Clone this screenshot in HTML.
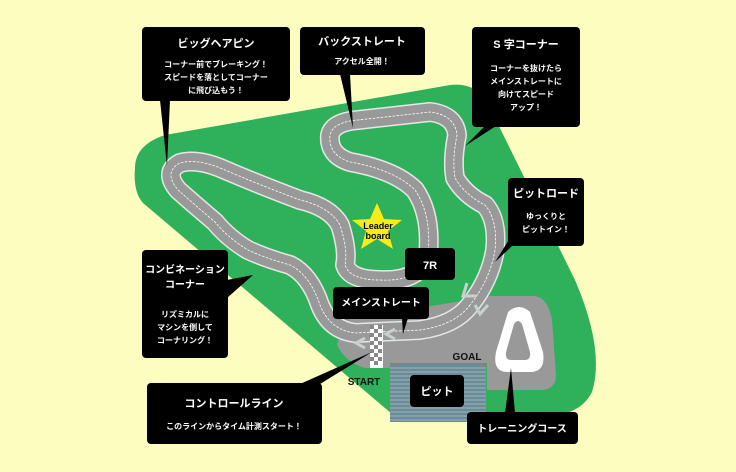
<!DOCTYPE html>
<html><head><meta charset="utf-8"><style>
body{margin:0;background:#fdfdbf;}
svg{display:block}
text{font-family:"Liberation Sans","Noto Sans CJK JP",sans-serif;font-weight:bold;fill:#fff;text-anchor:middle}
</style></head><body>
<svg width="736" height="472" viewBox="0 0 736 472" xmlns="http://www.w3.org/2000/svg">
<defs>
<path id="trk" d="M470,305 Q455,325 420,330 L355,333 Q330,330 320,305 Q310,275 290,265 Q265,258 248,250 Q228,238 215,222 Q195,205 178,190 Q163,172 180,163 Q198,158 225,170 Q260,185 300,200 Q330,207 340,225 Q348,250 345,265 Q350,280 380,280 Q420,282 428,255 Q432,215 415,190 Q395,170 350,162 Q328,155 330,135 Q333,122 358,120 L430,112 Q455,115 457,135 Q452,160 455,178 Q465,195 485,205 Q498,220 495,250 Q490,280 470,305"/>
</defs>
<rect width="736" height="472" fill="#fdfdbf"/>
<path d="M135,168 Q135,145 165,135 L450,85 Q475,82 487,102 L575,280 Q605,350 592,392 Q578,420 530,416 L392,414 L143,203 Q133,192 135,168 Z" fill="#2fb05a"/>
<path d="M345,320 L480,298 L487,296 L487,363 L390,363 L390,368 L365,368 Q345,362 337,345 Z" fill="#999"/>
<path d="M487,296 L535,296 Q548,298 552,320 L556,375 Q556,390 540,390 L487,390 Z" fill="#999"/>
<g fill="none" stroke-linecap="round" stroke-linejoin="round">
<use href="#trk" stroke="#e6e6e6" stroke-width="20"/>
<use href="#trk" stroke="#999" stroke-width="17"/>
<use href="#trk" stroke="#fff" stroke-width="0.8" stroke-dasharray="2 2"/>
</g>
<g fill="none" stroke="#c8d0d0" stroke-width="3">
<path d="M365,338 L356,343 L365,348"/><path d="M395,329 L386,334 L395,339"/>
<path d="M467,283 L463,296 L476,296"/><path d="M475,305 L480,314 L488,305"/>
</g>
<g>
<rect x="370" y="325" width="13" height="43" fill="#fff"/>
<path fill="#888" d="M370,325h4v4h-4zM378,325h4v4h-4zM374,329h4v4h-4zM370,333h4v4h-4zM378,333h4v4h-4zM374,337h4v4h-4zM370,341h4v4h-4zM378,341h4v4h-4zM374,345h4v4h-4zM370,349h4v4h-4zM378,349h4v4h-4zM374,353h4v4h-4zM370,357h4v4h-4zM378,357h4v4h-4zM374,361h4v4h-4z"/>
</g>
<rect x="390" y="364" width="96" height="58" fill="#6d8b96"/>
<g stroke="#9cb4bc" stroke-width="1">
<path d="M390,368H486M390,372H486M390,376H486M390,380H486M390,384H486M390,388H486M390,392H486M390,396H486M390,400H486M390,404H486M390,408H486M390,412H486M390,416H486M390,420H486"/>
</g>
<path d="M508,312 Q519,302 530,312 L543,352 Q546,372 530,372 L508,372 Q492,372 496,352 Z" fill="#fff"/>
<path d="M514,324 Q518,318 522,324 L530,352 Q531,360 525,360 L511,360 Q505,360 506,352 Z" fill="#999"/>
<polygon points="377,203 384,219 402,220 388,231 393,249 377,239 361,249 366,231 352,220 370,219" fill="#f5ec1a"/>
<text x="378" y="229" style="fill:#000;font-size:9px">Leader</text>
<text x="378" y="239" style="fill:#000;font-size:9px">board</text>
<text x="364" y="385" style="fill:#111;font-size:10px">START</text>
<text x="467" y="360" style="fill:#111;font-size:10px">GOAL</text>
<g fill="#000">
<rect x="142" y="27" width="148" height="74" rx="4"/><polygon points="160,100 170,100 167,166"/>
<rect x="300" y="27" width="125" height="48" rx="4"/><polygon points="340,74 350,74 353,128"/>
<rect x="472" y="27" width="108" height="100" rx="4"/><polygon points="485,126 496,126 465,146"/>
<rect x="508" y="178" width="76" height="68" rx="4"/><polygon points="512,235 512,246 495,262"/>
<rect x="142" y="250" width="86" height="108" rx="4"/><polygon points="227,280 227,298 253,275"/>
<rect x="405" y="248" width="50" height="32" rx="4"/>
<rect x="333" y="287" width="96" height="32" rx="4"/><polygon points="402,318 408,318 403,334"/>
<rect x="147" y="383" width="175" height="61" rx="4"/><polygon points="300,384 320,384 372,352"/>
<rect x="410" y="375" width="54" height="32" rx="4"/>
<rect x="467" y="412" width="111" height="32" rx="4"/><polygon points="505,413 515,413 511,368"/>
</g>
<text x="216" y="47" style="font-size:11px">ビッグヘアピン</text>
<text x="216" y="67" style="font-size:8px">コーナー前でブレーキング！</text>
<text x="216" y="80" style="font-size:8px">スピードを落としてコーナー</text>
<text x="216" y="93" style="font-size:8px">に飛び込もう！</text>
<text x="362" y="45" style="font-size:11px">バックストレート</text>
<text x="362" y="64" style="font-size:8px">アクセル全開！</text>
<text x="526" y="48" style="font-size:11px">S 字コーナー</text>
<text x="526" y="71" style="font-size:8px">コーナーを抜けたら</text>
<text x="526" y="84" style="font-size:8px">メインストレートに</text>
<text x="526" y="97" style="font-size:8px">向けてスピード</text>
<text x="526" y="110" style="font-size:8px">アップ！</text>
<text x="546" y="197" style="font-size:11px">ピットロード</text>
<text x="546" y="219" style="font-size:8px">ゆっくりと</text>
<text x="546" y="232" style="font-size:8px">ピットイン！</text>
<text x="185" y="273" style="font-size:10px">コンビネーション</text>
<text x="185" y="288" style="font-size:10px">コーナー</text>
<text x="185" y="317" style="font-size:8px">リズミカルに</text>
<text x="185" y="330" style="font-size:8px">マシンを倒して</text>
<text x="185" y="343" style="font-size:8px">コーナリング！</text>
<text x="430" y="269" style="font-size:11px">7R</text>
<text x="381" y="306" style="font-size:10px">メインストレート</text>
<text x="234" y="407" style="font-size:11px">コントロールライン</text>
<text x="234" y="429" style="font-size:8px">このラインからタイム計測スタート！</text>
<text x="437" y="395" style="font-size:11px">ピット</text>
<text x="522" y="432" style="font-size:10px">トレーニングコース</text>
</svg>
</body></html>
